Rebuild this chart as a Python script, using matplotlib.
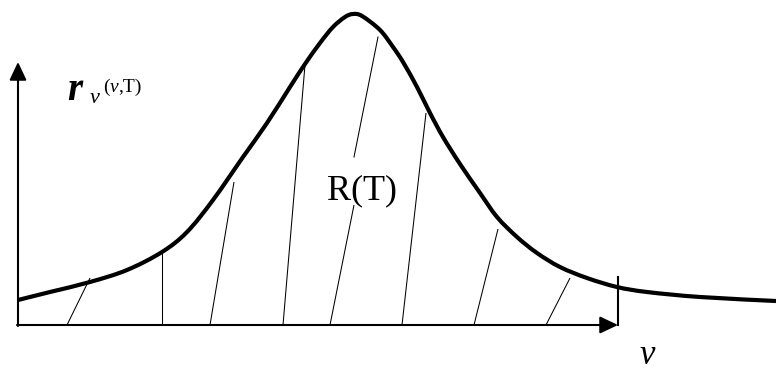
import matplotlib
matplotlib.use("Agg")
import matplotlib.pyplot as plt
from matplotlib.path import Path
from matplotlib.patches import PathPatch

# Spectral radiance curve r_v(v, T), sampled along the sketch (drawing units, y grows downward)
curve_x = [18, 50, 90, 127, 162, 187, 213, 243, 267, 290, 305, 320, 333, 345, 353,
           362, 380, 393, 403, 417, 430, 443, 460, 480, 497, 517, 537, 560, 587, 617,
           647, 700, 776]
curve_y = [300, 292, 282, 270, 252, 232, 200, 157, 123, 87, 64, 43, 27, 17, 14,
           16, 30, 47, 62, 87, 113, 137, 164, 193, 217, 237, 253, 267, 278, 287,
           292, 297, 301]

# Hatch strokes under the curve: foot on the v axis, top end
hatch_x0 = [67, 162, 210, 283, 330, 402, 474, 546]
hatch_x1 = [90, 162, 234, 305, 354, 426, 498, 570]
hatch_y1 = [278, 253, 182, 65, 205, 113, 229, 278]
# upper piece of the middle stroke, above the R(T) label
upper_x = [354, 378]
upper_y = [157, 37]

axis_origin = (18, 325)
y_axis_tip = 62
x_axis_tip = 618
cutoff_x = 618
cutoff_top = 277

W, H = 776, 371
fig = plt.figure(figsize=(W / 100, H / 100), dpi=100)
ax = fig.add_axes([0, 0, 1, 1])
ax.set_xlim(0, W)
ax.set_ylim(H, 0)
ax.axis("off")

serif = "Liberation Serif"


def smooth_path(xs, ys):
    """Cubic Bezier path through the samples (Catmull-Rom tangents)."""
    pts = list(zip(xs, ys))
    verts = [pts[0]]
    codes = [Path.MOVETO]
    n = len(pts)
    for i in range(n - 1):
        p0 = pts[i - 1] if i > 0 else pts[i]
        p1, p2 = pts[i], pts[i + 1]
        p3 = pts[i + 2] if i + 2 < n else pts[i + 1]
        c1 = (p1[0] + (p2[0] - p0[0]) / 6, p1[1] + (p2[1] - p0[1]) / 6)
        c2 = (p2[0] - (p3[0] - p1[0]) / 6, p2[1] - (p3[1] - p1[1]) / 6)
        verts += [c1, c2, p2]
        codes += [Path.CURVE4] * 3
    return Path(verts, codes)


# hatching
for x0, x1, y1 in zip(hatch_x0, hatch_x1, hatch_y1):
    ax.plot([x0, x1], [axis_origin[1], y1], color="black", lw=0.75, solid_capstyle="butt")
ax.plot(upper_x, upper_y, color="black", lw=0.75)

# curve
ax.add_patch(PathPatch(smooth_path(curve_x, curve_y), facecolor="none", edgecolor="black",
                       lw=3.0, joinstyle="round", capstyle="butt"))

# axes with arrow heads
arrow = dict(arrowstyle="-|>,head_length=1.1,head_width=0.52", color="black", lw=1.5,
             mutation_scale=10, shrinkA=0, shrinkB=0)
ax.annotate("", xy=(axis_origin[0], y_axis_tip), xytext=(axis_origin[0], axis_origin[1] + 1),
            arrowprops=arrow)
ax.annotate("", xy=(x_axis_tip, axis_origin[1]), xytext=(axis_origin[0] - 1, axis_origin[1]),
            arrowprops=arrow)

# cutoff mark at the end of the range
ax.plot([cutoff_x, cutoff_x], [cutoff_top, axis_origin[1]], color="black", lw=1.5)

# labels
ax.text(67, 100, "r", fontfamily=serif, fontstyle="italic", fontweight="bold", fontsize=28,
        ha="left", va="baseline")
ax.text(90, 103, "ν", fontfamily=serif, fontstyle="italic", fontsize=16, ha="left", va="baseline")
ax.text(103, 92, "(", fontfamily=serif, fontsize=14, ha="left", va="baseline")
ax.text(109.5, 92, "ν", fontfamily=serif, fontstyle="italic", fontsize=14, ha="left", va="baseline")
ax.text(118.5, 92, ",T)", fontfamily=serif, fontsize=14, ha="left", va="baseline")

ax.text(362, 199, "R(T)", fontfamily=serif, fontsize=26, ha="center", va="baseline")
ax.text(647, 364, "ν", fontfamily=serif, fontstyle="italic", fontsize=25, ha="center", va="baseline")

fig.savefig("out.png", dpi=100)
